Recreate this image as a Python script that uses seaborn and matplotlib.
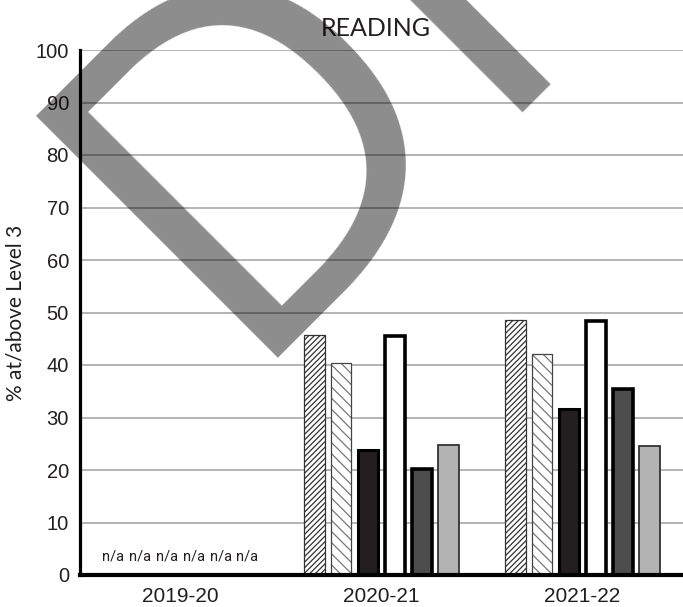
import numpy as np
import pandas as pd
import matplotlib
matplotlib.use("Agg")
import matplotlib.pyplot as plt
import matplotlib.colors as mcolors
import seaborn as sns

years = ["2019-20", "2020-21", "2021-22"]
series = ["Series 1", "Series 2", "Series 3", "Series 4", "Series 5", "Series 6"]
values_2019 = [np.nan, np.nan, np.nan, np.nan, np.nan, np.nan]
values_2020 = [45.7, 40.4, 23.8, 45.5, 20.2, 24.8]
values_2021 = [48.6, 42.1, 31.6, 48.4, 35.4, 24.6]
na_labels = ["n/a", "n/a", "n/a", "n/a", "n/a", "n/a"]
yticks = [0, 10, 20, 30, 40, 50, 60, 70, 80, 90, 100]

rows = []
for yr, vals in zip(years, [values_2019, values_2020, values_2021]):
    for s, v in zip(series, vals):
        rows.append({"year": yr, "series": s, "value": v})
df = pd.DataFrame(rows)

sns.set_theme(style="white")
plt.rcParams["font.family"] = ["Liberation Sans", "DejaVu Sans"]
plt.rcParams["hatch.linewidth"] = 0.9

fig = plt.figure(figsize=(6.83, 6.07), dpi=100)
ax = fig.add_axes([80 / 683, 32 / 607, 1 - 80 / 683, 525 / 607])

fills = ["white", "white", "#231f20", "white", "#4d4d4d", "#b3b3b3"]
palette = dict(zip(series, fills))
sns.barplot(data=df, x="year", y="value", hue="series", palette=palette,
            width=0.8, gap=0.25, legend=False, ax=ax, saturation=1, zorder=3)

hatches = ["//////", "\\\\\\", None, None, None, None]
hatch_cols = ["#333333", "#777777", None, None, None, None]
edges = ["#333333", "#444444", "black", "black", "black", "#333333"]
lws = [0.9, 0.9, 2.2, 2.6, 2.6, 1.3]
for cont, h, hc, ec, lw in zip(ax.containers, hatches, hatch_cols, edges, lws):
    for p in cont:
        p.set_edgecolor(ec)
        p.set_linewidth(lw)
        if h:
            p.set_hatch(h)
            p._hatch_color = mcolors.to_rgba(hc)

ax.set_xlim(-0.5, 2.5)
ax.set_ylim(0, 100)
ax.set_yticks(yticks)
ax.yaxis.grid(True, color="#a0a0a0", linewidth=1.1, zorder=0)
ax.set_axisbelow(True)
for s in ["top", "right"]:
    ax.spines[s].set_visible(False)
ax.spines["left"].set_linewidth(2.3)
ax.spines["left"].set_color("black")
ax.spines["bottom"].set_linewidth(3)
ax.spines["bottom"].set_color("black")
ax.spines["bottom"].set_zorder(5)

ax.set_xticks([0, 1, 2])
ax.set_xticklabels(years, fontsize=15)
ax.set_xticks([0.5, 1.5], minor=True)
ax.tick_params(axis="x", which="major", length=0, pad=9, colors="#231f20")
ax.tick_params(axis="x", which="minor", length=10, width=2, direction="in", color="black")
ax.tick_params(axis="y", length=0, pad=8, labelsize=14.5, colors="#231f20")
ax.set_xlabel("")
ax.set_ylabel("% at/above Level 3", fontsize=15, family=["Lato", "DejaVu Sans"],
              color="#231f20", labelpad=7)

n = len(series)
offsets = (np.arange(n) - (n - 1) / 2) * 0.8 / n
for off, lab in zip(offsets, na_labels):
    ax.text(0 + off, 2.2, lab, ha="center", va="bottom", fontsize=10.5,
            family=["Roboto", "DejaVu Sans"], color="#231f20")

fig.text(376 / 683, 1 - 29 / 607, "READING", ha="center", va="center",
         fontsize=18, family=["Lato", "DejaVu Sans"], fontweight="normal", color="#231f20")

fig.text(231 / 683, 1 - 358 / 607, "DRAFT", rotation=45, rotation_mode="anchor",
         ha="left", va="baseline", fontsize=345, family=["Open Sans", "DejaVu Sans"],
         color="black", alpha=0.45, zorder=10)

fig.savefig("out.png", dpi=100)
